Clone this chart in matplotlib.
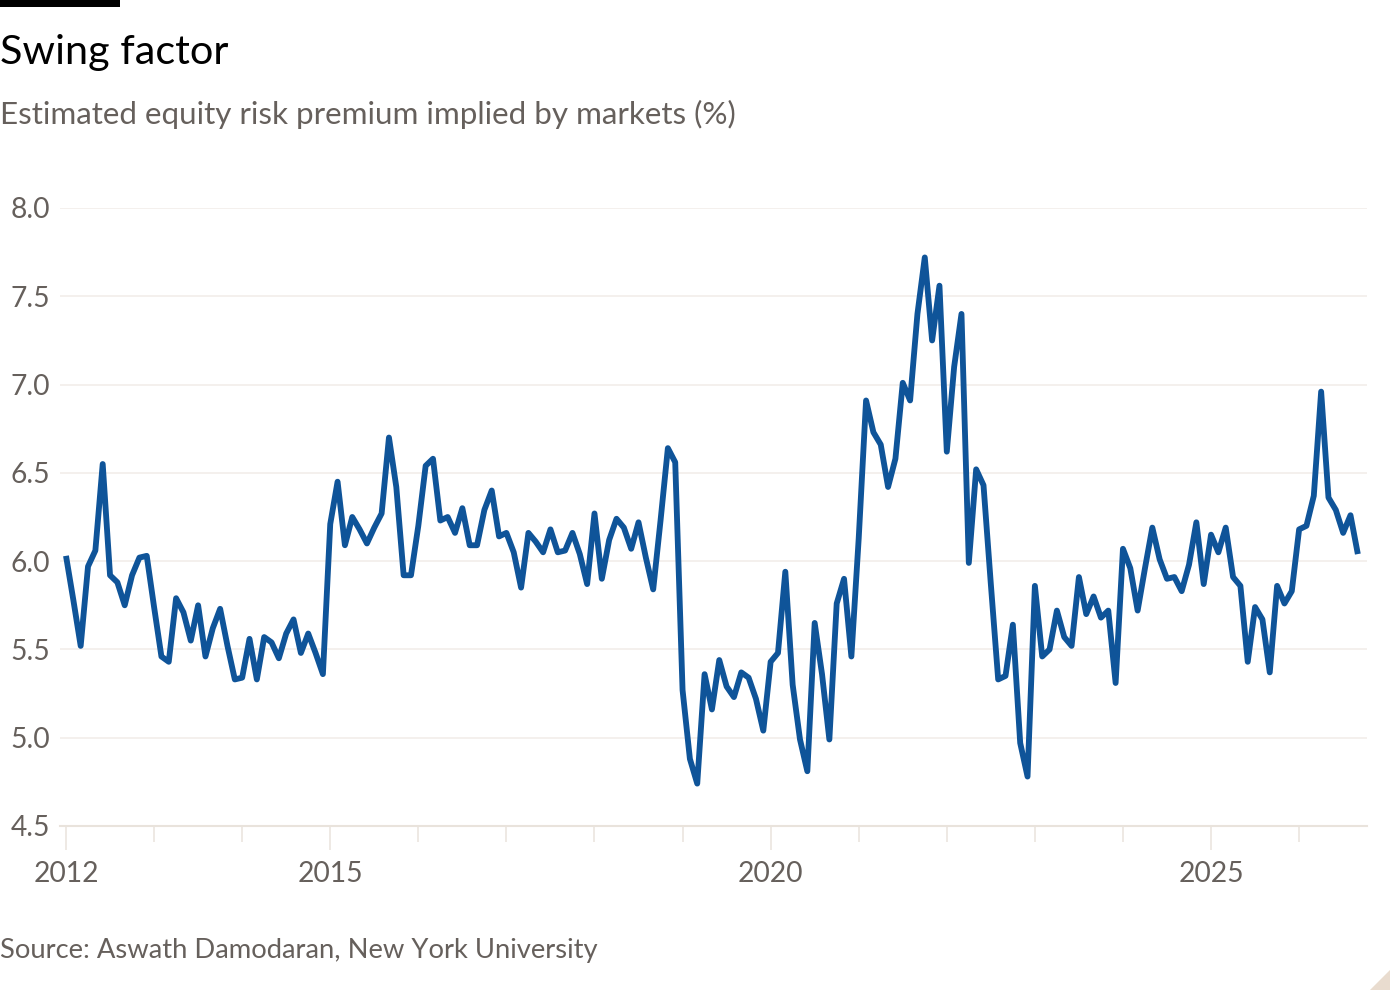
import matplotlib
matplotlib.use("Agg")
import matplotlib.pyplot as plt
from matplotlib.patches import Polygon, Rectangle

# ---------------- data (monthly, starting January 2012) ----------------
start_year = 2012
erp_2012 = [6.03, 5.78, 5.52, 5.97, 6.06, 6.55, 5.92, 5.88, 5.75, 5.92, 6.02, 6.03]
erp_2013 = [5.74, 5.46, 5.43, 5.79, 5.71, 5.55, 5.75, 5.46, 5.62, 5.73, 5.52, 5.33]
erp_2014 = [5.34, 5.56, 5.33, 5.57, 5.54, 5.45, 5.59, 5.67, 5.48, 5.59, 5.48, 5.36]
erp_2015 = [6.21, 6.45, 6.09, 6.25, 6.18, 6.10, 6.19, 6.27, 6.70, 6.42, 5.92, 5.92]
erp_2016 = [6.20, 6.54, 6.58, 6.23, 6.25, 6.16, 6.30, 6.09, 6.09, 6.29, 6.40, 6.14]
erp_2017 = [6.16, 6.05, 5.85, 6.16, 6.11, 6.05, 6.18, 6.05, 6.06, 6.16, 6.04, 5.87]
erp_2018 = [6.27, 5.90, 6.12, 6.24, 6.19, 6.07, 6.22, 6.02, 5.84, 6.23, 6.64, 6.56]
erp_2019 = [5.27, 4.88, 4.74, 5.36, 5.16, 5.44, 5.29, 5.23, 5.37, 5.34, 5.22, 5.04]
erp_2020 = [5.43, 5.48, 5.94, 5.30, 4.99, 4.81, 5.65, 5.36, 4.99, 5.76, 5.90, 5.46]
erp_2021 = [6.13, 6.91, 6.73, 6.66, 6.42, 6.58, 7.01, 6.91, 7.40, 7.72, 7.25, 7.56]
erp_2022 = [6.62, 7.10, 7.40, 5.99, 6.52, 6.43, 5.87, 5.33, 5.35, 5.64, 4.97, 4.78]
erp_2023 = [5.86, 5.46, 5.50, 5.72, 5.57, 5.52, 5.91, 5.70, 5.80, 5.68, 5.72, 5.31]
erp_2024 = [6.07, 5.96, 5.72, 5.96, 6.19, 6.01, 5.90, 5.91, 5.83, 5.98, 6.22, 5.87]
erp_2025 = [6.15, 6.05, 6.19, 5.91, 5.86, 5.43, 5.74, 5.67, 5.37, 5.86, 5.76, 5.83]
erp_2026 = [6.18, 6.20, 6.37, 6.96, 6.36, 6.29, 6.16, 6.26, 6.04]

values = (erp_2012 + erp_2013 + erp_2014 + erp_2015 + erp_2016 + erp_2017 +
          erp_2018 + erp_2019 + erp_2020 + erp_2021 + erp_2022 + erp_2023 +
          erp_2024 + erp_2025 + erp_2026)
dates = [start_year + i / 12 for i in range(len(values))]

y_ticks = [4.5, 5.0, 5.5, 6.0, 6.5, 7.0, 7.5, 8.0]
y_tick_labels = ["4.5", "5.0", "5.5", "6.0", "6.5", "7.0", "7.5", "8.0"]
x_major = [2012, 2015, 2020, 2025]
x_major_labels = ["2012", "2015", "2020", "2025"]
x_minor = [2013, 2014, 2016, 2017, 2018, 2019, 2021, 2022, 2023, 2024, 2026]

title = "Swing factor"
subtitle = "Estimated equity risk premium implied by markets (%)"
source = "Source: Aswath Damodaran, New York University"

# ---------------- style ----------------
plt.rcParams["font.family"] = ["Lato", "DejaVu Sans"]
LINE = "#0f5499"
GREY = "#66605c"
GRID = "#f2eeea"
AXIS = "#e9e3dc"

W, H = 1400, 1000
fig = plt.figure(figsize=(W / 100, H / 100), dpi=100)
fig.patch.set_facecolor("white")

def fx(px):
    return px / W

def fy(py):
    return 1 - py / H

ax = fig.add_axes([fx(60), fy(826), fx(1367 - 60), (826 - 208) / H])
ax.set_facecolor("white")
ax.plot(dates, values, color=LINE, lw=4.2, solid_joinstyle="round",
        solid_capstyle="butt", clip_on=False, zorder=3)

ax.set_xlim(2012 - 6 / 88.08, 2012 + 1301 / 88.08)
ax.set_ylim(4.5, 8.0)

ax.set_yticks(y_ticks)
ax.set_yticklabels(y_tick_labels)
ax.yaxis.grid(True, color=GRID, lw=1.2, zorder=0)
ax.set_axisbelow(True)

ax.set_xticks(x_major)
ax.set_xticklabels(x_major_labels)
ax.set_xticks(x_minor, minor=True)

for s in ["top", "right", "left"]:
    ax.spines[s].set_visible(False)
ax.spines["bottom"].set_color(AXIS)
ax.spines["bottom"].set_linewidth(1.5)

ax.tick_params(axis="y", length=0, pad=7, labelsize=20.3, labelcolor=GREY)
ax.tick_params(axis="x", which="major", length=17.5, width=1.1, color=AXIS,
               pad=7.5, labelsize=20.3, labelcolor=GREY)
ax.tick_params(axis="x", which="minor", length=11.5, width=1.1, color=AXIS)

# ---------------- texts ----------------
fig.text(fx(0), fy(64), title, ha="left", va="baseline", fontsize=29.8,
         color="#000000")
fig.text(fx(0), fy(124), subtitle, ha="left", va="baseline", fontsize=22.6,
         color=GREY)
fig.text(fx(0), fy(958), source, ha="left", va="baseline", fontsize=19.7,
         color=GREY)

# top-left black bar
fig.patches.append(Rectangle((0, fy(7)), fx(120), 7 / H, transform=fig.transFigure,
                             facecolor="black", edgecolor="none"))
# bottom-right corner triangle
fig.patches.append(Polygon([(fx(1370), fy(990)), (fx(1390), fy(990)), (fx(1390), fy(970))],
                           closed=True, transform=fig.transFigure,
                           facecolor="#e9dccf", edgecolor="none"))

fig.savefig("out.png", dpi=100, facecolor="white")
